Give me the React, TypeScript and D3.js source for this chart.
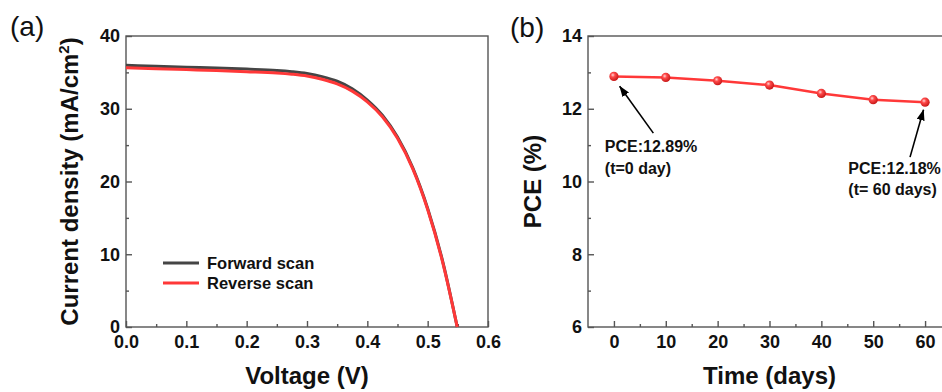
import React, { useEffect, useRef } from 'react';
import * as d3 from 'd3';

// J-V curves (panel a)
const VOLTAGE = [0, 0.05, 0.1, 0.15, 0.2, 0.25, 0.275, 0.3, 0.325, 0.35, 0.375, 0.4, 0.425, 0.45, 0.475, 0.5, 0.525, 0.549];
const J_FORWARD = [35.97, 35.85, 35.72, 35.6, 35.45, 35.27, 35.1, 34.85, 34.42, 33.78, 32.75, 31.2, 29.1, 26.1, 21.95, 16.3, 9.0, 0];
const J_REVERSE = [35.62, 35.5, 35.38, 35.25, 35.1, 34.92, 34.75, 34.5, 34.06, 33.42, 32.42, 30.95, 28.9, 25.95, 21.8, 16.15, 8.85, 0];

// stability (panel b)
const DAYS = [0, 10, 20, 30, 40, 50, 60];
const PCE = [12.89, 12.86, 12.77, 12.65, 12.42, 12.25, 12.18];

const LEGEND = [
  { label: 'Forward scan', color: '#454545' },
  { label: 'Reverse scan', color: '#ff3838' },
];

const FONT = "'Liberation Sans', Arial, sans-serif";
const AXIS = '#555';

const App = () => {
  const svgRef = useRef<SVGSVGElement>(null);

  useEffect(() => {
    const svg = d3.select(svgRef.current);
    svg.selectAll('*').remove();
    svg.attr('font-family', FONT);

    const defs = svg.append('defs');
    const grad = defs.append('radialGradient').attr('id', 'ball').attr('cx', '38%').attr('cy', '35%').attr('r', '65%');
    grad.append('stop').attr('offset', '0%').attr('stop-color', '#ffd6d6');
    grad.append('stop').attr('offset', '35%').attr('stop-color', '#ff4a4a');
    grad.append('stop').attr('offset', '100%').attr('stop-color', '#c81818');
    defs.append('marker')
      .attr('id', 'head')
      .attr('markerUnits', 'userSpaceOnUse')
      .attr('viewBox', '0 0 11 8')
      .attr('markerWidth', 11)
      .attr('markerHeight', 8)
      .attr('refX', 10.5)
      .attr('refY', 4)
      .attr('orient', 'auto')
      .append('path')
      .attr('d', 'M0,0L11,4L0,8Z')
      .attr('fill', '#000');

    const top = 36;
    const bottom = 327;

    // draws the frame, ticks and labels of one panel
    const frame = (x, y, xMajor, xMinor, yMajor, yMinor, xFmt, yFmt) => {
      const [x0, x1] = x.range();
      const g = svg.append('g');
      g.append('rect')
        .attr('x', x0).attr('y', top)
        .attr('width', x1 - x0).attr('height', bottom - top)
        .attr('fill', 'none').attr('stroke', AXIS).attr('stroke-width', 1.4);

      const style = (sel) => {
        sel.select('.domain').remove();
        sel.selectAll('line').attr('stroke', AXIS).attr('stroke-width', 1.4);
        sel.selectAll('text').attr('font-size', 18).attr('font-weight', 'bold').attr('fill', '#111').attr('font-family', FONT);
      };

      g.append('g').attr('transform', `translate(0,${bottom})`)
        .call(d3.axisBottom(x).tickValues(xMinor).tickSize(-3).tickFormat(() => '')).call(style);
      g.append('g').attr('transform', `translate(0,${bottom})`)
        .call(d3.axisBottom(x).tickValues(xMajor).tickSize(-6).tickPadding(8).tickFormat(xFmt)).call(style);
      g.append('g').attr('transform', `translate(${x0},0)`)
        .call(d3.axisLeft(y).tickValues(yMinor).tickSize(-3).tickFormat(() => '')).call(style);
      g.append('g').attr('transform', `translate(${x0},0)`)
        .call(d3.axisLeft(y).tickValues(yMajor).tickSize(-6).tickPadding(6).tickFormat(yFmt)).call(style);
      return g;
    };

    // ---------- panel (a) ----------
    const xa = d3.scaleLinear().domain([0, 0.6]).range([126, 488]);
    const ya = d3.scaleLinear().domain([0, 40]).range([bottom, top]);
    frame(
      xa, ya,
      d3.range(0, 0.61, 0.1), d3.range(0.05, 0.6, 0.1),
      d3.range(0, 41, 10), d3.range(5, 40, 10),
      d3.format('.1f'), d3.format('d')
    );

    const line = d3.line().x((d) => xa(d[0])).y((d) => ya(d[1])).curve(d3.curveMonotoneX);
    [J_FORWARD, J_REVERSE].forEach((J, i) => {
      svg.append('path')
        .datum(VOLTAGE.map((v, k) => [v, J[k]]))
        .attr('d', line)
        .attr('fill', 'none')
        .attr('stroke', LEGEND[i].color)
        .attr('stroke-width', 3);
    });

    const leg = svg.append('g');
    LEGEND.forEach((d, i) => {
      const yy = 263 + i * 20;
      leg.append('line').attr('x1', 163).attr('x2', 199).attr('y1', yy).attr('y2', yy)
        .attr('stroke', d.color).attr('stroke-width', 3);
      leg.append('text').attr('x', 207).attr('y', yy).attr('dy', '0.36em')
        .attr('font-size', 16.5).attr('font-weight', 'bold').attr('fill', '#111').text(d.label);
    });

    svg.append('text').attr('x', 10).attr('y', 36).attr('font-size', 28).attr('fill', '#111').text('(a)');
    svg.append('text').attr('x', xa(0.3)).attr('y', 384).attr('text-anchor', 'middle')
      .attr('font-size', 24).attr('font-weight', 'bold').attr('fill', '#111').text('Voltage (V)');
    const ta = svg.append('text')
      .attr('transform', `translate(78,${(top + bottom) / 2}) rotate(-90)`)
      .attr('text-anchor', 'middle').attr('font-size', 24).attr('font-weight', 'bold').attr('fill', '#111');
    ta.append('tspan').text('Current density (mA/cm');
    ta.append('tspan').attr('dy', -9).attr('font-size', 15).text('2');
    ta.append('tspan').attr('dy', 9).text(')');

    // ---------- panel (b) ----------
    const xb = d3.scaleLinear().domain([-5, 65]).range([588, 951]);
    const yb = d3.scaleLinear().domain([6, 14]).range([bottom, top]);
    frame(
      xb, yb,
      DAYS, d3.range(5, 60, 10),
      d3.range(6, 15, 2), d3.range(7, 14, 2),
      d3.format('d'), d3.format('d')
    );

    svg.append('path')
      .datum(DAYS.map((t, k) => [t, PCE[k]]))
      .attr('d', d3.line().x((d) => xb(d[0])).y((d) => yb(d[1])))
      .attr('fill', 'none').attr('stroke', '#ff3838').attr('stroke-width', 2.5);
    svg.append('g').selectAll('circle')
      .data(DAYS.map((t, k) => [t, PCE[k]]))
      .join('circle')
      .attr('cx', (d) => xb(d[0])).attr('cy', (d) => yb(d[1])).attr('r', 4.6)
      .attr('fill', 'url(#ball)');

    // annotations, positioned in data units
    const notes = [
      { from: [7.6, 11.33], to: [1.1, 12.62], x: -1.75, lines: ['PCE:12.89%', '(t=0 day)'], y: 10.81 },
      { from: [57.1, 10.67], to: [59.7, 11.97], x: 45.2, lines: ['PCE:12.18%', '(t= 60 days)'], y: 10.21 },
    ];
    notes.forEach((n) => {
      svg.append('line')
        .attr('x1', xb(n.from[0])).attr('y1', yb(n.from[1]))
        .attr('x2', xb(n.to[0])).attr('y2', yb(n.to[1]))
        .attr('stroke', '#000').attr('stroke-width', 1.6).attr('marker-end', 'url(#head)');
      const t = svg.append('text').attr('font-size', 16).attr('font-weight', 'bold').attr('fill', '#111');
      n.lines.forEach((s, i) => {
        t.append('tspan').attr('x', xb(n.x)).attr('y', yb(n.y) + i * 21.5).text(s);
      });
    });

    svg.append('text').attr('x', 510).attr('y', 37).attr('font-size', 28).attr('fill', '#111').text('(b)');
    svg.append('text').attr('x', xb(30)).attr('y', 384).attr('text-anchor', 'middle')
      .attr('font-size', 24).attr('font-weight', 'bold').attr('fill', '#111').text('Time (days)');
    svg.append('text')
      .attr('transform', `translate(541,${(top + bottom) / 2}) rotate(-90)`)
      .attr('text-anchor', 'middle').attr('font-size', 24).attr('font-weight', 'bold').attr('fill', '#111')
      .text('PCE (%)');
  }, []);

  return (
    <svg
      ref={svgRef}
      width={942}
      height={392}
      style={{ position: 'absolute', left: 0, top: 0, background: '#fff' }}
    />
  );
};

export default App;
